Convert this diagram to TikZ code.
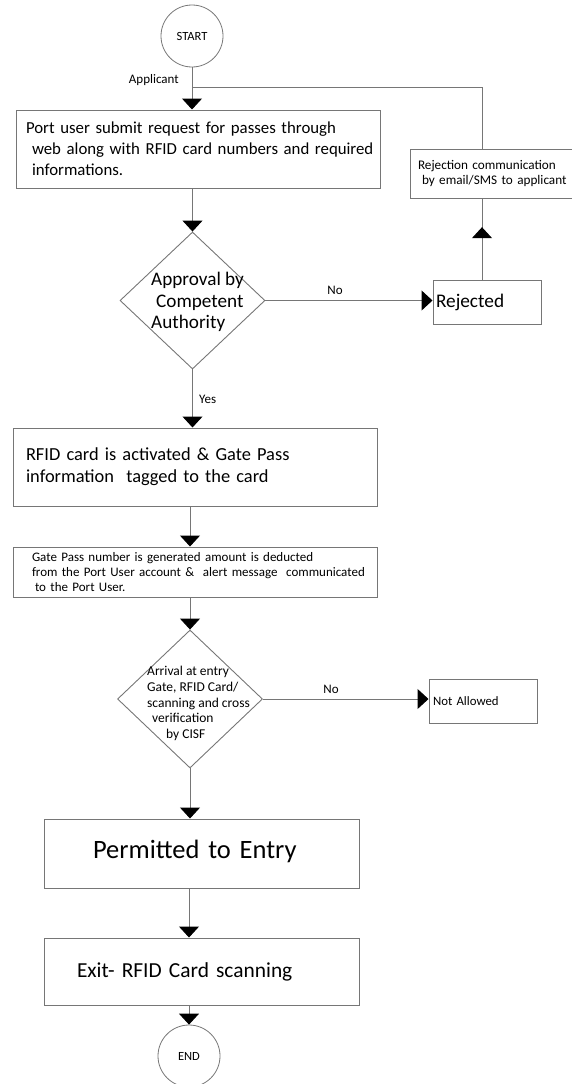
\documentclass[tikz,border=0pt]{standalone}
\usepackage{fontspec}
\setmainfont{Carlito}
\usetikzlibrary{arrows.meta,shapes.geometric,decorations.markings}

\definecolor{edge}{RGB}{118,118,118}

\tikzset{
  x=1pt, y=-1pt,
  head/.tip={Triangle[width=20pt,length=11pt,color=black]},
  box/.style={draw=edge, line width=1pt, rectangle, inner ysep=0pt, align=left},
  decision/.style={draw=edge, line width=0.9pt, diamond, inner sep=0pt},
  terminal/.style={draw=edge, line width=0.8pt, circle, inner sep=0pt,
                   minimum size=62pt, font=\fontsize{12.5}{14}\selectfont},
  flow/.style={draw=edge, line width=1pt, -head},
  link/.style={draw=edge, line width=1pt},
  midarrow/.style={postaction={decorate}, decoration={markings,
                   mark=at position 0.646 with {\arrow{head}}}},
  tag/.style={font=\fontsize{13}{15}\selectfont, inner sep=0pt},
  inside/.style={inner sep=0pt, align=left},
}

\begin{document}
\begin{tikzpicture}
\useasboundingbox (0,0) rectangle (572,1084);
\clip (0,0) rectangle (572,1084);

% terminals
\node[terminal] (start)  at (192,36)   {START};
\node[terminal] (finish) at (189,1056) {END};

% request and decision
\node[box, minimum width=364pt, minimum height=78pt, text width=344pt, inner xsep=10pt,
      font=\fontsize{16.8}{21}\selectfont] (req) at (198,149)
  {\mbox{Port user submit request for passes through}\\
   \mbox{\hspace*{6pt}web along with RFID card numbers and required}\\
   \mbox{\hspace*{6pt}informations.}};

\node[decision, minimum width=145pt, minimum height=137pt] (approve) at (192.5,300.5) {};
\node[inside, anchor=west, font=\fontsize{19.2}{21.5}\selectfont] (approvetext) at (151,302)
  {Approval by\\\hspace*{5pt}Competent\\Authority};

% rejection branch
\node[box, minimum width=108pt, minimum height=44pt, text width=102pt, inner xsep=3pt,
      font=\fontsize{19.3}{21}\selectfont] (rejected) at (487,302) {Rejected};
\node[box, minimum width=180pt, minimum height=49pt, text width=164pt, inner xsep=8pt,
      font=\fontsize{13.2}{15}\selectfont] (rejcomm) at (500,173.5)
  {\mbox{Rejection communication}\\\mbox{\hspace*{4pt}by email/SMS to applicant}};
\coordinate (back) at (482,0);
\coordinate (join) at (192,87);

% approved path
\node[box, minimum width=364pt, minimum height=78pt, text width=338pt, inner xsep=13pt,
      font=\fontsize{18.4}{22}\selectfont] (activate) at (195,467)
  {\mbox{RFID card is activated \& Gate Pass}\\\mbox{information\ \ tagged to the card}};

\node[box, minimum width=364pt, minimum height=50pt, text width=326pt, inner xsep=19pt,
      font=\fontsize{13}{15}\selectfont] (generate) at (195,572)
  {\mbox{Gate Pass number is generated amount is deducted}\\
   \mbox{from the Port User account \&\ \ alert message\ \ communicated}\\
   \mbox{\hspace*{3pt}to the Port User.}};

\node[decision, minimum width=145pt, minimum height=138pt] (check) at (190,699) {};
\node[inside, anchor=west, font=\fontsize{13.5}{15.8}\selectfont] (checktext) at (147,703.5)
  {Arrival at entry\\Gate, RFID Card/\\scanning and cross\\
   \hspace*{5pt}verification\\\hspace*{19pt}by CISF};

\node[box, minimum width=108pt, minimum height=44pt, text width=100pt, inner xsep=4pt,
      font=\fontsize{12.8}{16}\selectfont] (denied) at (483,701) {Not Allowed};

\node[box, minimum width=315pt, minimum height=69pt, text width=217pt, inner xsep=49pt,
      font=\fontsize{26.5}{30}\selectfont] (permit) at (201.5,853.5)
  {\raisebox{8pt}{Permitted to Entry}};

\node[box, minimum width=315pt, minimum height=67pt, text width=249pt, inner xsep=33pt,
      font=\fontsize{21.4}{24}\selectfont] (exitscan) at (201.5,971.5)
  {Exit- RFID Card scanning};

% connectors
\draw[flow] (start.south) -- (req.north -| start.south);
\draw[flow] (req.south -| approve.north) -- (approve.north);
\draw[flow] (approve.east) -- (rejected.west |- approve.east);
\draw[link, midarrow] (back |- rejected.north) -- (back |- rejcomm.south);
\draw[link] (back |- rejcomm.north) |- (join);
\draw[flow] (approve.south) -- (activate.north -| approve.south);
\draw[flow] (activate.south -| check.north) -- (generate.north -| check.north);
\draw[flow] (generate.south -| check.north) -- (check.north);
\draw[flow] (check.east) -- (denied.west |- check.east);
\draw[flow] (check.south) -- (permit.north -| check.south);
\draw[flow] (permit.south -| finish.north) -- (exitscan.north -| finish.north);
\draw[flow] (exitscan.south -| finish.north) -- (finish.north);

% edge labels
\node[tag, anchor=east] (applicant) at (179,80) {Applicant};
\node[tag] (noone) at (335,290) {No};
\node[tag, anchor=west] (yes) at (199,399) {Yes};
\node[tag] (notwo) at (331,689) {No};
\end{tikzpicture}
\end{document}
